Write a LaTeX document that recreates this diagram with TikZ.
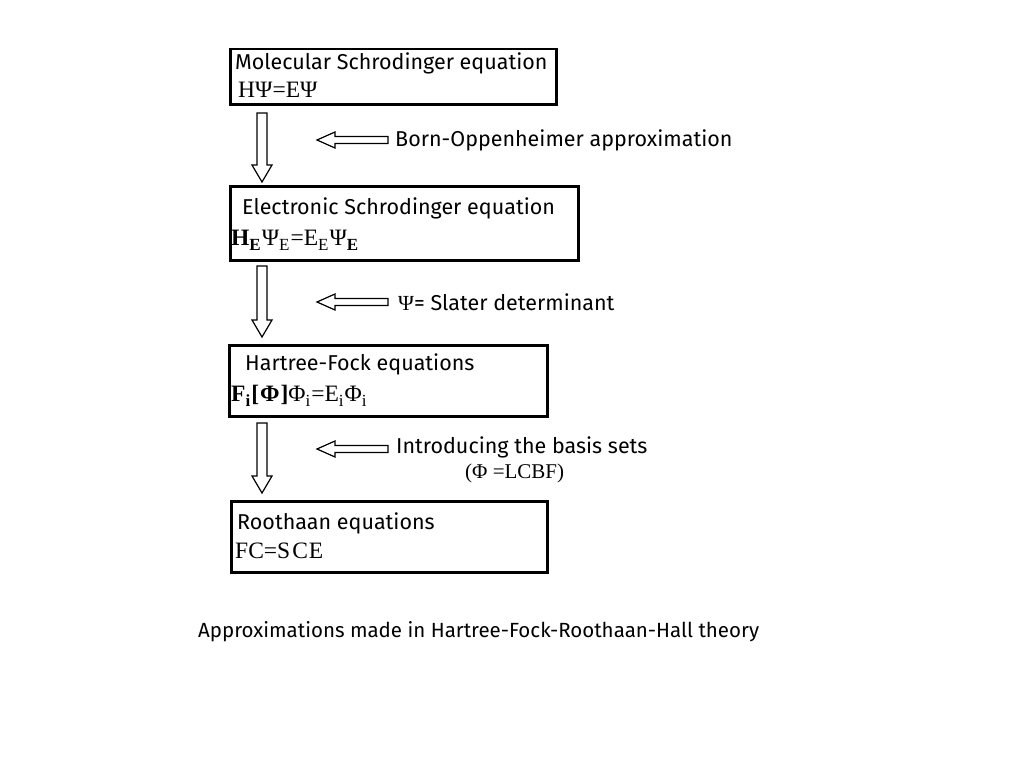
\documentclass[tikz,border=0pt]{standalone}
\usepackage{fontspec}
\setmainfont{Fira Sans}
\newfontfamily\eqfont{Liberation Serif}
\newcommand\lowsub[1]{\raisebox{-0.22em}{\fontsize{17}{17}\selectfont #1}\kern1pt}
\tikzset{
  box/.style={draw=black, line width=2.5pt, anchor=north west, inner sep=0pt},
  lbl/.style={anchor=west, inner sep=0pt, font=\fontsize{21.5}{24}\selectfont},
  eqn/.style={anchor=west, inner sep=0pt, font=\eqfont\fontsize{23.5}{26}\selectfont},
  hollow/.style={draw=black, line width=1.2pt, fill=white, line join=miter}
}
\newcommand\downarrowshape[3]{% cx, y0, y1
  \draw[hollow] (#1-5,#2) -- (#1+5,#2) -- (#1+5,#3-17) -- (#1+10,#3-17) -- (#1,#3) -- (#1-10,#3-17) -- (#1-5,#3-17) -- cycle;}
\newcommand\leftarrowshape[3]{% tipx, tailx, cy
  \draw[hollow] (#2,#3-3.5) -- (#2,#3+3.5) -- (#1+18,#3+3.5) -- (#1+18,#3+8) -- (#1,#3) -- (#1+18,#3-8) -- (#1+18,#3-3.5) -- cycle;}
\begin{document}
\begin{tikzpicture}[x=1pt,y=-1pt]
\useasboundingbox (0,0) rectangle (1024,768);
% boxes
\node[box, minimum width=326pt, minimum height=55pt] (b1) at (229,48) {};
\node[box, minimum width=348pt, minimum height=74pt] (b2) at (229,185) {};
\node[box, minimum width=318pt, minimum height=71pt] (b3) at (228,344) {};
\node[box, minimum width=316pt, minimum height=71pt] (b4) at (230,500) {};
% box texts
\node[lbl] (t1) at (235,63) {Molecular Schrodinger equation};
\node[eqn] (e1) at (238,90) {HΨ=EΨ};
\node[lbl] (t2) at (242,208) {Electronic Schrodinger equation};
\node[eqn] (e2) at (231,240) {\textbf{H}\lowsub{\textbf{E}}Ψ\lowsub{E}=E\lowsub{E}Ψ\lowsub{\textbf{E}}};
\node[lbl] (t3) at (245,364) {Hartree-Fock equations};
\node[eqn] (e3) at (231,396) {\textbf{F\lowsub{\textbf{i}}[\kern1ptΦ\kern1pt]}Φ\lowsub{i}=E\lowsub{i}Φ\lowsub{i}};
\node[lbl] (t4) at (237,523) {Roothaan equations};
\node[eqn] (e4) at (235,551) {FC=S\kern2ptC\kern1ptE};
% vertical hollow arrows
\downarrowshape{262}{113}{182}
\downarrowshape{262}{266}{337}
\downarrowshape{262}{423}{493}
% horizontal hollow arrows
\leftarrowshape{317}{388}{140}
\leftarrowshape{317}{388}{302}
\leftarrowshape{317}{388}{449}
% side labels
\node[lbl] (s1) at (395,140) {Born-Oppenheimer approximation};
\node[lbl] (s2) at (398,302) {{\eqfont Ψ}= Slater determinant};
\node[lbl] (s3) at (396,447) {Introducing the basis sets};
\node[eqn, font=\eqfont\fontsize{21}{23}\selectfont] (s4) at (465,473) {(Φ =LCBF)};
% caption
\node[lbl, font=\fontsize{20.5}{23}\selectfont] (cap) at (198,632) {Approximations made in Hartree-Fock-Roothaan-Hall theory};
\end{tikzpicture}
\end{document}
